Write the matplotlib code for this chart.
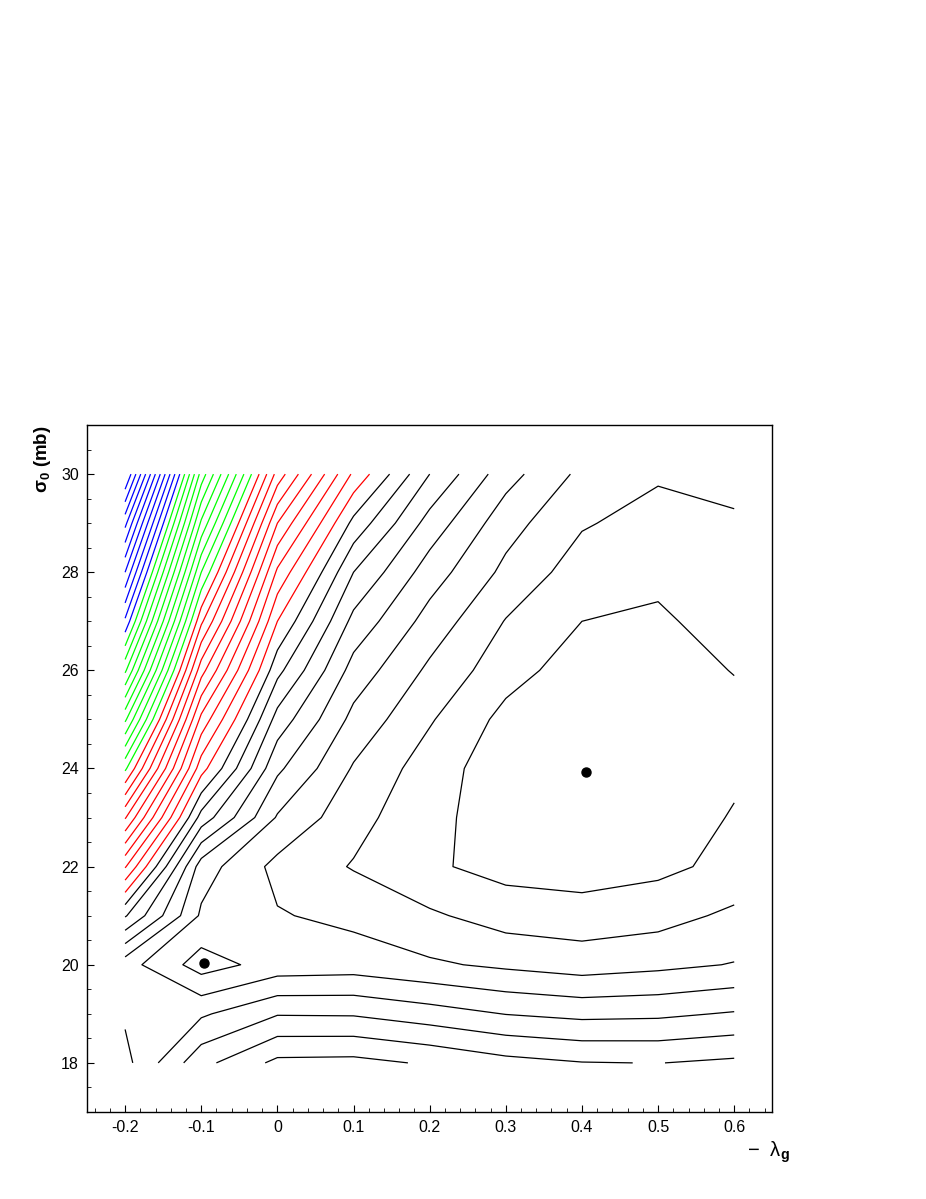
import matplotlib
matplotlib.use("Agg")
import matplotlib.pyplot as plt
import numpy as np
from matplotlib.ticker import MultipleLocator

plt.rcParams['font.family'] = ['Liberation Sans', 'DejaVu Sans']
plt.rcParams['mathtext.fontset'] = 'custom'
plt.rcParams['mathtext.rm'] = 'Liberation Sans'
plt.rcParams['mathtext.bf'] = 'Liberation Sans:bold'

# scan grid: -lambda_g and sigma_0
lam = [-0.2, -0.1, 0.0, 0.1, 0.2, 0.3, 0.4, 0.5, 0.6]
sig = [18, 19, 20, 21, 22, 23, 24, 25, 26, 27, 28, 29, 30]

# chi2 - chi2_min on the grid (rows = sigma_0, cols = -lambda_g)
chi2 = [
    [3.70, 6.69, 8.25, 8.30, 7.88, 7.33, 7.04, 6.98, 7.20],
    [4.14, 4.85, 5.93, 5.90, 5.45, 4.97, 4.73, 4.80, 5.09],
    [4.41, 2.55, 3.42, 3.52, 3.15, 2.81, 2.52, 2.75, 3.05],
    [8.10, 3.84, 3.075, 2.74, 2.15, 1.56, 1.44, 1.63, 2.20],
    [12.1, 4.48, 2.70, 1.93, 1.15, 0.66, 0.50, 0.755, 1.29],
    [16.1, 7.60, 3.90, 2.34, 1.30, 0.45, 0.15, 0.45, 1.075],
    [20.2, 10.4, 5.20, 2.90, 1.50, 0.40, 0.02, 0.35, 0.825],
    [24.2, 12.7, 6.60, 3.70, 2.10, 0.70, 0.15, 0.45, 0.75],
    [28.2, 15.4, 8.30, 4.60, 2.80, 1.40, 0.50, 0.65, 1.03],
    [31.8, 18.2, 10.0, 5.70, 3.60, 1.95, 1.00, 0.90, 1.27],
    [35.0, 21.0, 11.8, 7.00, 4.50, 2.75, 1.50, 1.15, 1.60],
    [38.3, 23.8, 14.0, 8.70, 5.60, 3.40, 2.10, 1.60, 1.95],
    [42.2, 26.6, 16.6, 10.8, 7.00, 4.40, 2.75, 2.13, 2.12],
]

levels_black = list(range(1, 10))
levels_red = list(range(10, 20))
levels_green = list(range(20, 31))
levels_blue = list(range(31, 42))

best_fit = (0.405, 23.93)
local_min = (-0.097, 20.03)

fig = plt.figure(figsize=(9.26, 11.99), dpi=100)
ax = fig.add_axes([0.094, 0.0726, 0.740, 0.5729])

X, Y = np.meshgrid(lam, sig)
Z = np.array(chi2)
for lev, col in [(levels_black, 'black'), (levels_red, '#ff0000'),
                 (levels_green, '#00ff00'), (levels_blue, '#0000ff')]:
    ax.contour(X, Y, Z, levels=lev, colors=col, linewidths=0.9)

ax.plot(*best_fit, 'o', color='black', markersize=6.5)
ax.plot(*local_min, 'o', color='black', markersize=6.5)

ax.set_xlim(-0.25, 0.65)
ax.set_ylim(17, 31)
ax.xaxis.set_major_locator(MultipleLocator(0.1))
ax.xaxis.set_minor_locator(MultipleLocator(0.02))
ax.yaxis.set_major_locator(MultipleLocator(2))
ax.yaxis.set_minor_locator(MultipleLocator(0.5))
ax.set_xticks([-0.2, -0.1, 0, 0.1, 0.2, 0.3, 0.4, 0.5, 0.6])
ax.set_xticklabels(['-0.2', '-0.1', '0', '0.1', '0.2', '0.3', '0.4', '0.5', '0.6'])
ax.tick_params(which='both', direction='in', labelsize=11.5, pad=6)
ax.tick_params(which='major', length=5)
ax.tick_params(which='minor', length=3)
for s in ax.spines.values():
    s.set_linewidth(1.0)

ax.set_ylabel(r'σ$_\mathbf{0}$ (mb)', fontsize=13.5, fontweight='bold',
              loc='top', labelpad=6)
fig.text(0.853, 0.039, r'$-$  λ$_\mathbf{g}$', fontsize=14.5, ha='right', va='center')

fig.savefig('out.png', dpi=100)
